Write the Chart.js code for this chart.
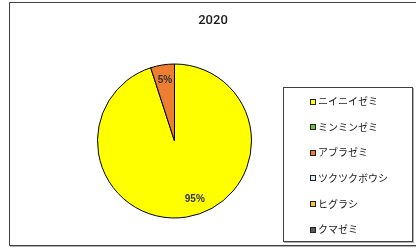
<!DOCTYPE html>
<html>
<head>
<meta charset="utf-8">
<script src="https://cdn.jsdelivr.net/npm/chart.js@4/dist/chart.umd.min.js"></script>
<style>
  html, body { margin: 0; padding: 0; background: #fff; }
  #wrap { position: relative; width: 416px; height: 248px; }
</style>
</head>
<body>
<div id="wrap"><canvas id="myChart" width="416" height="248"></canvas></div>
<script>
// chart data
var title = "2020";
var labels = ["ニイニイゼミ", "ミンミンゼミ", "アブラゼミ", "ツクツクボウシ", "ヒグラシ", "クマゼミ"];
var values = [95, 0, 5, 0, 0, 0];
var colors = ["#ffff00", "#70c040", "#ed7d31", "#daeef3", "#f9c14a", "#5a5a5a"];

// frame, title and legend box, drawn on the canvas
var decorPlugin = {
  id: "decor",
  beforeDraw: function (chart) {
    var ctx = chart.ctx;
    ctx.save();
    ctx.fillStyle = "#fff";
    ctx.fillRect(0, 0, chart.width, chart.height);
    // outer frame
    ctx.strokeStyle = "#404040";
    ctx.lineWidth = 1;
    ctx.beginPath();
    ctx.moveTo(420, 2.5);
    ctx.lineTo(9.5, 2.5);
    ctx.lineTo(9.5, 245.5);
    ctx.lineTo(420, 245.5);
    ctx.stroke();
    ctx.strokeStyle = "#b0b0b0";
    ctx.beginPath();
    ctx.moveTo(10, 246.5);
    ctx.lineTo(420, 246.5);
    ctx.stroke();
    // title
    ctx.fillStyle = "#1a1a1a";
    ctx.font = "500 13px Roboto, 'Liberation Sans', sans-serif";
    ctx.textAlign = "center";
    ctx.textBaseline = "middle";
    ctx.fillText(title, 213, 21);
    ctx.restore();
  },
  afterDraw: function (chart) {
    var ctx = chart.ctx;
    ctx.save();
    // legend box
    ctx.strokeStyle = "#404040";
    ctx.lineWidth = 1;
    ctx.strokeRect(283.5, 87.5, 129, 154);
    ctx.strokeStyle = "#b0b0b0";
    ctx.beginPath();
    ctx.moveTo(284, 242.5);
    ctx.lineTo(414, 242.5);
    ctx.moveTo(413.5, 88);
    ctx.lineTo(413.5, 243);
    ctx.stroke();
    ctx.font = "10px 'Noto Sans CJK JP', sans-serif";
    ctx.textAlign = "left";
    ctx.textBaseline = "middle";
    chart.data.labels.forEach(function (lab, i) {
      var y = 101.5 + i * 25.6;
      ctx.fillStyle = chart.data.datasets[0].backgroundColor[i];
      ctx.fillRect(310, Math.round(y) - 3, 6, 6);
      ctx.strokeStyle = "#222";
      ctx.strokeRect(310.5, Math.round(y) - 2.5, 5, 5);
      ctx.fillStyle = "#1a1a1a";
      ctx.fillText(lab, 318, y);
    });
    ctx.restore();
  },
  afterDatasetsDraw: function (chart) {
    var ctx = chart.ctx;
    var meta = chart.getDatasetMeta(0);
    var data = chart.data.datasets[0].data;
    var total = data.reduce(function (a, b) { return a + b; }, 0);
    ctx.save();
    ctx.font = "bold 10px 'Liberation Sans', Arial, sans-serif";
    ctx.fillStyle = "#333";
    ctx.textAlign = "center";
    ctx.textBaseline = "middle";
    meta.data.forEach(function (arc, i) {
      if (!data[i]) return;
      var p = arc.getProps(["x", "y", "startAngle", "endAngle", "outerRadius"], true);
      // big slices get their label pulled a little toward the end of the arc
      var t = data[i] / total > 0.5 ? 0.47 : 0.5;
      var mid = p.startAngle + (p.endAngle - p.startAngle) * t;
      var r = p.outerRadius * 0.8;
      var pct = Math.round(data[i] / total * 100) + "%";
      ctx.fillText(pct, p.x + Math.cos(mid) * r, p.y + Math.sin(mid) * r);
    });
    ctx.restore();
  }
};

var ctx = document.getElementById("myChart").getContext("2d");
var chart = new Chart(ctx, {
  type: "pie",
  data: {
    labels: labels,
    datasets: [
      {
        data: values,
        backgroundColor: colors,
        borderColor: "#000",
        borderWidth: 1,
      },
    ],
  },
  options: {
    responsive: false,
    animation: false,
    layout: { padding: { left: 97, right: 164, top: 63, bottom: 29 } },
    plugins: {
      legend: { display: false },
      title: { display: false },
      tooltip: { enabled: false },
    },
  },
  plugins: [decorPlugin],
});
</script>
</body>
</html>
